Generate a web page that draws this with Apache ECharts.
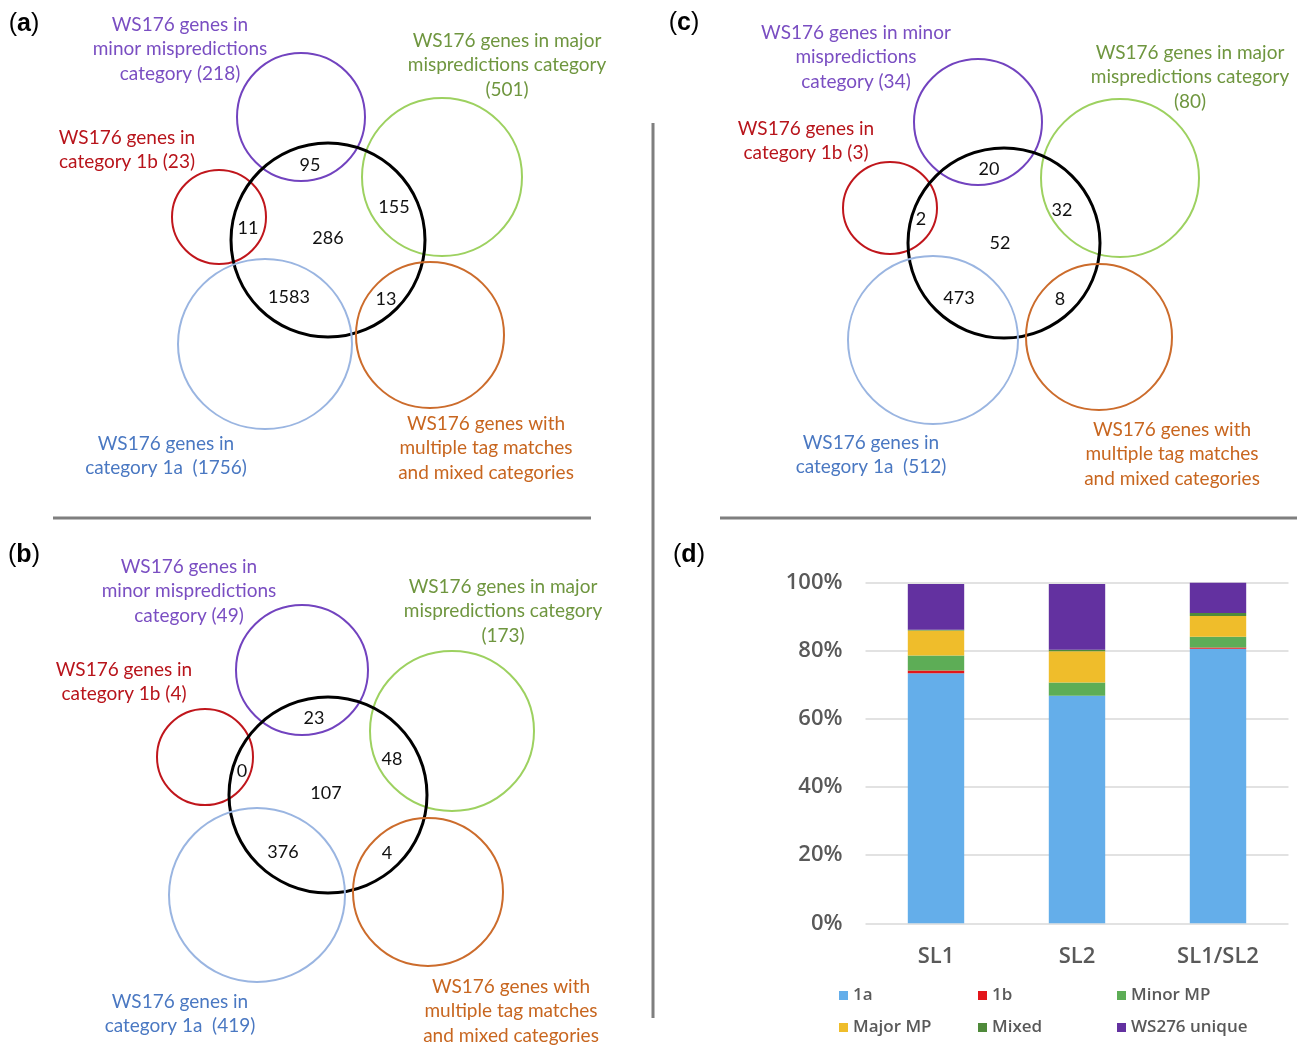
<!DOCTYPE html>
<html>
<head>
<meta charset="utf-8">
<script src="https://cdn.jsdelivr.net/npm/echarts@6/dist/echarts.min.js"></script>
<style>
  html, body { margin: 0; padding: 0; background: #ffffff; }
  #chart { width: 1297px; height: 1046px; }
</style>
</head>
<body>
<div id="chart"></div>
<script>
// ---------- Venn data ----------
// Region order: minor MP, major MP, 1b, WS276-only, 1a, mixed (each overlap with the WS276 set)
const regionKeys = ['minor', 'major', 'oneB', 'core', 'oneA', 'mixed'];
const overlapSL1 = [95, 155, 11, 286, 1583, 13];
const overlapSL2 = [23, 48, 0, 107, 376, 4];
const overlapBoth = [20, 32, 2, 52, 473, 8];

// WS176 set sizes: minor MP, major MP, 1b, 1a
const totalsSL1 = [218, 501, 23, 1756];
const totalsSL2 = [49, 173, 4, 419];
const totalsBoth = [34, 80, 3, 512];

// ---------- Stacked bar data (percent of genes) ----------
const barCategories = ['SL1', 'SL2', 'SL1/SL2'];
const share1a = [73.4, 66.8, 80.6];
const share1b = [0.8, 0.0, 0.4];
const shareMinor = [4.4, 3.9, 3.1];
const shareMajor = [7.4, 9.2, 6.1];
const shareMixed = [0.2, 0.4, 0.9];
const shareUnique = [13.4, 19.3, 8.9];
const yTicks = [0, 20, 40, 60, 80, 100];

// ---------- Styling ----------
const setStroke = ['#7243bf', '#9dd160', '#c0161c', '#000000', '#9ab5e1', '#cc6c2c'];
const setText = { minor: '#7a4ec2', major: '#6f963f', oneB: '#b8141b', oneA: '#4a78c2', mixed: '#c8661f' };
const barColors = ['#64aeea', '#e3161b', '#5dad56', '#efbd2b', '#4f8a3a', '#6331a0'];
const labelFont = '19px Lato';
const countFont = '18px Lato';

// ---------- Venn layout (panel-local pixel units) ----------
// circles: [cx, cy, rx, ry] in region order
const layoutA = {
  circles: [[301,117,64,64],[442,177,80,79],[219,217,47,47],[328,240,97,97],[265,344,87,85],[430,335,74,73]],
  counts:  [[310,165],[394,207],[248,228],[328,238],[289,297],[386,299]],
  labels:  { minor:[180,49], major:[507,65], oneB:[127,150], oneA:[166,456], mixed:[486,448] }
};
const layoutB = {
  circles: [[302,140,66,65],[452,201,82,80],[205,227,48,48],[328,265,99,98],[257,365,88,87],[428,362,75,74]],
  counts:  [[314,188],[392,229],[242,241],[326,263],[283,322],[387,323]],
  labels:  { minor:[189,61], major:[503,81], oneB:[124,152], oneA:[180,484], mixed:[511,481] }
};
const layoutC = {
  circles: [[318,122,64,63],[460,178,79,79],[230,208,47,46],[344,243,96,95],[273,340,85,84],[439,337,73,73]],
  counts:  [[329,169],[402,210],[261,219],[340,243],[299,298],[400,299]],
  labels:  { minor:[196,57], major:[530,77], oneB:[146,141], oneA:[211,455], mixed:[512,454] }
};

function labelTexts(totals, minorWrapAfterMinor) {
  return {
    minor: minorWrapAfterMinor
      ? 'WS176 genes in minor\nmispredictions\ncategory (' + totals[0] + ')'
      : 'WS176 genes in\nminor mispredictions\ncategory (' + totals[0] + ')',
    major: 'WS176 genes in major\nmispredictions category\n(' + totals[1] + ')',
    oneB: 'WS176 genes in\ncategory 1b (' + totals[2] + ')',
    oneA: 'WS176 genes in\ncategory 1a  (' + totals[3] + ')',
    mixed: 'WS176 genes with\nmultiple tag matches\nand mixed categories'
  };
}

function vennSeries(idx, layout, counts, texts) {
  const labelKeys = Object.keys(layout.labels);
  return [
    {
      type: 'custom', name: 'circles-' + idx, xAxisIndex: idx, yAxisIndex: idx, clip: false, silent: true,
      data: layout.circles.map((c, i) => [c[0], c[1], c[2], c[3], i]),
      renderItem: (params, api) => {
        const p = api.coord([api.value(0), api.value(1)]);
        const s = api.size([api.value(2), api.value(3)]);
        const k = api.value(4);
        return {
          type: 'ellipse',
          shape: { cx: p[0], cy: p[1], rx: Math.abs(s[0]), ry: Math.abs(s[1]) },
          style: { fill: 'none', stroke: setStroke[k], lineWidth: k === 3 ? 3 : 2 }
        };
      }
    },
    {
      type: 'custom', name: 'counts-' + idx, xAxisIndex: idx, yAxisIndex: idx, clip: false, silent: true,
      data: counts.map((v, i) => [layout.counts[i][0], layout.counts[i][1], v]),
      renderItem: (params, api) => {
        const p = api.coord([api.value(0), api.value(1)]);
        return {
          type: 'text', x: p[0], y: p[1],
          style: { text: String(api.value(2)), fill: '#111111', font: countFont, align: 'center', verticalAlign: 'middle' }
        };
      }
    },
    {
      type: 'custom', name: 'labels-' + idx, xAxisIndex: idx, yAxisIndex: idx, clip: false, silent: true,
      data: labelKeys.map(k => [layout.labels[k][0], layout.labels[k][1]]),
      renderItem: (params, api) => {
        const p = api.coord([api.value(0), api.value(1)]);
        const key = labelKeys[params.dataIndex];
        return {
          type: 'text', x: p[0], y: p[1],
          style: { text: texts[key], fill: setText[key], font: labelFont, align: 'center', verticalAlign: 'middle', lineHeight: 24.5 }
        };
      }
    }
  ];
}

const vennGrids = [
  { left: 0, top: 0, width: 650, height: 510 },
  { left: 0, top: 530, width: 650, height: 516 },
  { left: 660, top: 0, width: 637, height: 510 }
];
const barGrid = { left: 865.5, top: 582.7, width: 423, height: 340.6 };

const xAxes = vennGrids.map((g, i) => ({ type: 'value', gridIndex: i, min: 0, max: g.width, show: false }));
const yAxes = vennGrids.map((g, i) => ({ type: 'value', gridIndex: i, min: 0, max: g.height, inverse: true, show: false }));

xAxes.push({
  type: 'category', gridIndex: 3, data: barCategories,
  axisLine: { show: false }, axisTick: { show: false },
  axisLabel: { color: '#595959', fontFamily: 'Open Sans', fontWeight: 600, fontSize: 22, margin: 22 }
});
yAxes.push({
  type: 'value', gridIndex: 3, min: yTicks[0], max: yTicks[yTicks.length - 1], interval: yTicks[1] - yTicks[0],
  axisLine: { show: false }, axisTick: { show: false },
  splitLine: { lineStyle: { color: '#d9d9d9', width: 1.5 } },
  axisLabel: { formatter: '{value}%', color: '#595959', fontFamily: 'Open Sans', fontWeight: 600, fontSize: 22, margin: 23 }
});

const barNames = ['1a', '1b', 'Minor MP', 'Major MP', 'Mixed', 'WS276 unique'];
const barValues = [share1a, share1b, shareMinor, shareMajor, shareMixed, shareUnique];
const barSeries = barNames.map((n, i) => ({
  type: 'bar', name: n, stack: 'share', xAxisIndex: 3, yAxisIndex: 3,
  barWidth: '40%', data: barValues[i], itemStyle: { color: barColors[i] }
}));

const legendText = { color: '#595959', fontFamily: 'Open Sans', fontWeight: 600, fontSize: 17 };
const legendColumns = [['1a', 'Major MP', 839], ['1b', 'Mixed', 978], ['Minor MP', 'WS276 unique', 1117]];
const legends = legendColumns.map(c => ({
  data: [c[0], c[1]], orient: 'vertical', left: c[2], top: 987, itemGap: 15,
  itemWidth: 9, itemHeight: 9, icon: 'rect', textStyle: legendText, selectedMode: false, padding: 0
}));

function panelTag(letter, x, y) {
  return {
    type: 'text', x: x, y: y,
    style: {
      text: '{p|(}{l|' + letter + '}{p|)}', align: 'center', verticalAlign: 'middle',
      rich: {
        p: { font: '25px "Liberation Sans"', fill: '#000' },
        l: { font: 'bold 25px "Liberation Sans"', fill: '#000' }
      }
    }
  };
}

const option = {
  animation: false,
  backgroundColor: '#ffffff',
  grid: vennGrids.concat([barGrid]),
  xAxis: xAxes,
  yAxis: yAxes,
  legend: legends,
  series: [].concat(
    vennSeries(0, layoutA, overlapSL1, labelTexts(totalsSL1, false)),
    vennSeries(1, layoutB, overlapSL2, labelTexts(totalsSL2, false)),
    vennSeries(2, layoutC, overlapBoth, labelTexts(totalsBoth, true)),
    barSeries
  ),
  graphic: [
    { type: 'line', shape: { x1: 53, y1: 518, x2: 591, y2: 518 }, style: { stroke: '#7f7f7f', lineWidth: 3 } },
    { type: 'line', shape: { x1: 720, y1: 518, x2: 1297, y2: 518 }, style: { stroke: '#7f7f7f', lineWidth: 3 } },
    { type: 'line', shape: { x1: 653, y1: 123, x2: 653, y2: 1018 }, style: { stroke: '#7f7f7f', lineWidth: 3 } },
    panelTag('a', 24, 24),
    panelTag('b', 24, 555),
    panelTag('c', 684, 23),
    panelTag('d', 689, 555)
  ]
};

const chart = echarts.init(document.getElementById('chart'), null, { renderer: 'canvas' });
chart.setOption(option);
</script>
</body>
</html>
